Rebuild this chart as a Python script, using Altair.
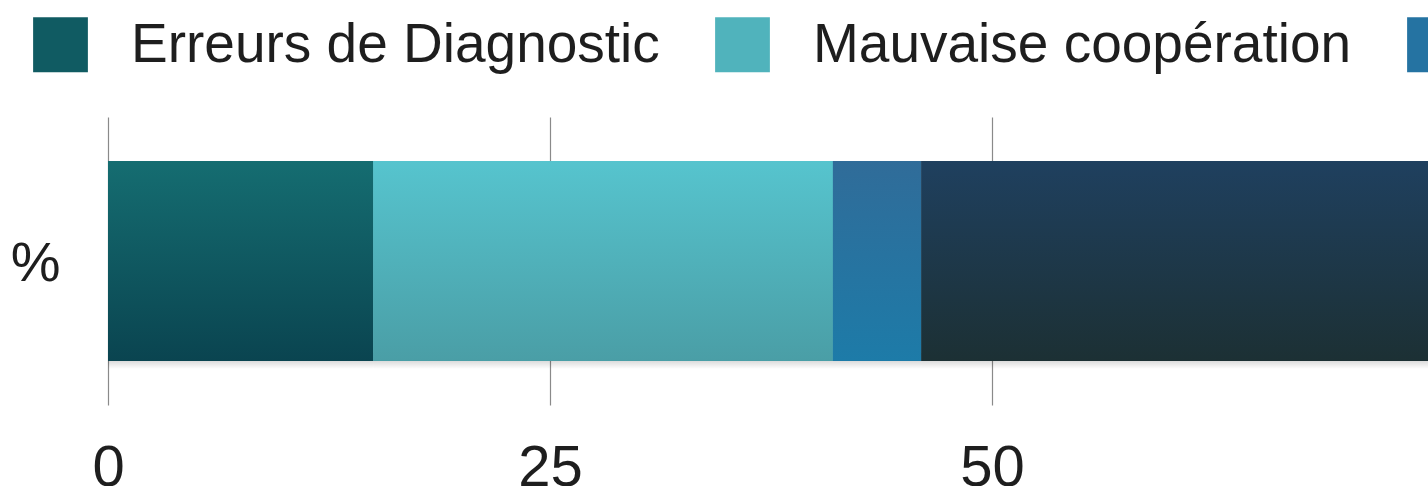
import altair as alt
import pandas as pd

# --- data ---
causes = ["Erreurs de Diagnostic", "Mauvaise coopération", "Erreurs de traitement", "Autres causes"]
values = [15, 26, 5, 54]
order = [0, 1, 2, 3]
row_label = ["%", "%", "%", "%"]
x_ticks = [0, 25, 50, 75]

# --- colours ---
mid_colors = ["#105b62", "#50b3bc", "#2573a2", "#1e3748"]
top_colors = ["#156d71", "#56c4ce", "#306c99", "#1f405f"]
bottom_colors = ["#0a4450", "#4a9ea6", "#1d7ba8", "#1c3034"]

FONT = "Liberation Sans"

df = pd.DataFrame({"cause": causes, "pct": values, "ord": order, "row": row_label})

base = alt.Chart(df).transform_stack(
    stack="pct", groupby=["row"], as_=["x0", "x1"], sort=[alt.SortField("ord")]
)

# soft shadow under the bar
shadow_grad = alt.Gradient(
    gradient="linear",
    stops=[alt.GradientStop(color="rgba(0,0,0,0.28)", offset=0),
           alt.GradientStop(color="rgba(0,0,0,0)", offset=1)],
    x1=0, x2=0, y1=0, y2=1,
)
shadow = base.mark_bar(size=16, yOffset=100, color=shadow_grad, clip=True).encode(
    x=alt.X(
        "x0:Q",
        title=None,
        scale=alt.Scale(domain=[0, 74.66], nice=False, zero=False),
        axis=alt.Axis(
            values=x_ticks,
            grid=True,
            gridColor="#8a8a8a",
            gridWidth=1.2,
            ticks=False,
            domain=False,
            labelFontSize=58,
            labelFont=FONT,
            labelColor="#1e1e1e",
            labelPadding=34,
            labelFlush=False,
            labelOverlap=False,
            labelBound=False,
        ),
    ),
    x2="x1:Q",
    y=alt.Y(
        "row:N",
        title=None,
        axis=alt.Axis(
            ticks=False,
            domain=False,
            grid=False,
            labelFontSize=56,
            labelFont=FONT,
            labelColor="#1e1e1e",
            labelPadding=48,
            labelOffset=3,
        ),
    ),
)

bars = base.mark_bar(size=200, clip=True).encode(
    x=alt.X("x0:Q", title=None),
    x2="x1:Q",
    y=alt.Y("row:N", title=None),
    color=alt.Color(
        "cause:N",
        scale=alt.Scale(domain=causes, range=mid_colors),
        sort=causes,
        legend=alt.Legend(
            title=None,
            orient="none",
            direction="horizontal",
            legendX=-75,
            legendY=-100,
            symbolType="square",
            symbolSize=3000,
            symbolStrokeWidth=0,
            symbolOpacity=1,
            labelFontSize=55,
            labelFont=FONT,
            labelColor="#1e1e1e",
            labelOffset=43,
            columnPadding=55,
            labelLimit=1000,
        ),
    ),
)

layers = [shadow, bars]
for c, t, b in zip(causes, top_colors, bottom_colors):
    grad = alt.Gradient(
        gradient="linear",
        stops=[alt.GradientStop(color=t, offset=0), alt.GradientStop(color=b, offset=1)],
        x1=0, x2=0, y1=0, y2=1,
    )
    layers.append(
        base.transform_filter(alt.datum.cause == c)
        .mark_bar(size=200, color=grad, clip=True)
        .encode(
            x=alt.X("x0:Q", title=None),
            x2="x1:Q",
            y=alt.Y("row:N", title=None),
        )
    )

chart = (
    alt.layer(*layers)
    .properties(
        width=1320,
        height=288,
        background="white",
        autosize=alt.AutoSizeParams(type="none"),
        padding={"left": 108, "top": 117, "right": 0, "bottom": 81},
    )
    .configure_view(strokeWidth=0, stroke="transparent")
)

chart.save("out.html", embed_options={"renderer": "svg", "actions": False})
